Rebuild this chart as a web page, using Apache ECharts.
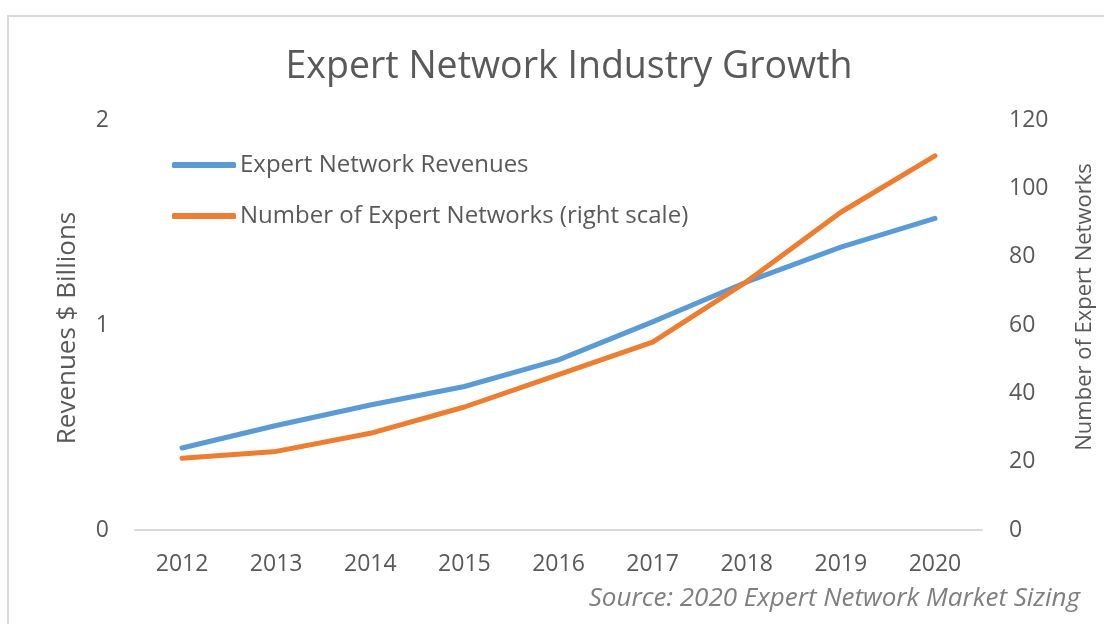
<!DOCTYPE html>
<html>
<head>
<meta charset="utf-8">
<script src="https://cdn.jsdelivr.net/npm/echarts@6/dist/echarts.min.js"></script>
<style>
html,body{margin:0;padding:0;background:#fff;}
#frame{position:absolute;left:7px;top:15px;width:1104px;height:620px;border-left:2px solid #d9d9d9;border-top:2px solid #d9d9d9;}
#chart{position:absolute;left:0;top:0;width:1104px;height:624px;}
</style>
</head>
<body>
<div id="frame"></div>
<div id="chart"></div>
<script>
const years = ['2012','2013','2014','2015','2016','2017','2018','2019','2020'];
const revenues = [0.40, 0.51, 0.61, 0.70, 0.83, 1.015, 1.21, 1.38, 1.52];
const networks = [21, 23, 28.3, 36, 45.5, 55, 72.7, 93, 109.5];
const leftTicks = [0, 1, 2];
const rightTicks = [0, 20, 40, 60, 80, 100, 120];

const FONT = '"Open Sans", sans-serif';
const chart = echarts.init(document.getElementById('chart'));
chart.setOption({
  animation: false,
  title: {
    text: 'Expert Network Industry Growth',
    left: 564, top: 43, textAlign: 'center',
    textStyle: {fontFamily: FONT, fontSize: 37.5, fontWeight: 'normal', color: '#595959'}
  },
  legend: {
    orient: 'vertical', left: 167, top: 148, itemGap: 27,
    itemWidth: 64, itemHeight: 6, icon: 'roundRect',
    textStyle: {fontFamily: FONT, fontSize: 24, color: '#595959', padding: [0,0,0,-1]},
    data: ['Expert Network Revenues', 'Number of Expert Networks (right scale)']
  },
  grid: {left: 135, right: 116, top: 120, bottom: 94},
  xAxis: {
    type: 'category', data: years, boundaryGap: true,
    axisLine: {lineStyle: {color: '#d9d9d9', width: 2}},
    axisTick: {show: false},
    axisLabel: {fontFamily: FONT, fontSize: 23, color: '#595959', margin: 23}
  },
  yAxis: [
    {
      type: 'value', min: 0, max: 2, interval: 1,
      name: 'Revenues $ Billions', nameLocation: 'middle', nameGap: 54,
      nameTextStyle: {fontFamily: FONT, fontSize: 26, color: '#595959', padding: [0,6,0,0]},
      axisLine: {show: false}, axisTick: {show: false}, splitLine: {show: false},
      axisLabel: {fontFamily: FONT, fontSize: 23, color: '#595959', margin: 26,
        formatter: v => leftTicks.includes(v) ? String(v) : ''}
    },
    {
      type: 'value', min: 0, max: 120, interval: 20, position: 'right',
      name: 'Number of Expert Networks', nameLocation: 'middle', nameGap: 92,
      nameTextStyle: {fontFamily: FONT, fontSize: 22, color: '#595959', padding: [0,0,0,36]},
      axisLine: {show: false}, axisTick: {show: false}, splitLine: {show: false},
      axisLabel: {fontFamily: FONT, fontSize: 23, color: '#595959', margin: 27,
        formatter: v => rightTicks.includes(v) ? String(v) : ''}
    }
  ],
  series: [
    {name: 'Expert Network Revenues', type: 'line', data: revenues, yAxisIndex: 0,
     symbol: 'none', lineStyle: {width: 5, color: '#5b9bd5', cap: 'round', join: 'round'},
     itemStyle: {color: '#5b9bd5'}},
    {name: 'Number of Expert Networks (right scale)', type: 'line', data: networks, yAxisIndex: 1,
     symbol: 'none', lineStyle: {width: 5, color: '#ed7d31', cap: 'round', join: 'round'},
     itemStyle: {color: '#ed7d31'}}
  ],
  graphic: [{
    type: 'text', right: 24, top: 586,
    style: {text: 'Source: 2020 Expert Network Market Sizing', fontFamily: FONT, fontSize: 26,
            fontStyle: 'italic', fill: '#7f7f7f'}
  }]
});
</script>
</body>
</html>
